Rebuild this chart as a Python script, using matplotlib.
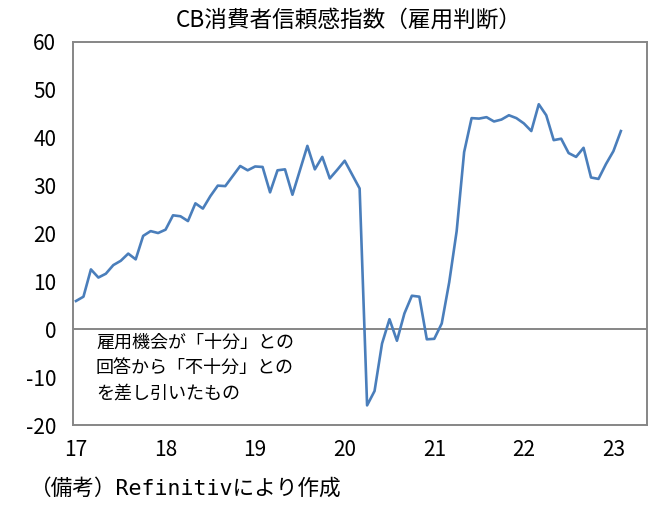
import matplotlib
matplotlib.use("Agg")
import matplotlib.pyplot as plt
import numpy as np

plt.rcParams['font.family'] = ['Noto Sans CJK JP', 'DejaVu Sans']

title = "CB消費者信頼感指数（雇用判断）"
note = "雇用機会が「十分」との\n回答から「不十分」との\nを差し引いたもの"
source = "（備考）Refinitivにより作成"

year_labels = ["17", "18", "19", "20", "21", "22", "23"]
y_ticks = [-20, -10, 0, 10, 20, 30, 40, 50, 60]

# Monthly values, Jan 2017 - Feb 2023
values = [
    5.9, 6.8, 12.5, 10.8, 11.6, 13.4, 14.3, 15.8, 14.6, 19.5, 20.5, 20.1,
    20.8, 23.8, 23.6, 22.6, 26.3, 25.2, 27.8, 30.0, 29.9, 32.0, 34.1, 33.2,
    34.0, 33.9, 28.6, 33.2, 33.4, 28.1, 33.2, 38.3, 33.4, 36.0, 31.5, 33.3,
    35.2, 32.3, 29.4, -15.9, -12.9, -3.0, 2.1, -2.4, 3.3, 7.0, 6.8, -2.1,
    -2.0, 1.2, 9.8, 20.5, 37.0, 44.1, 44.0, 44.3, 43.4, 43.8, 44.7, 44.1,
    43.0, 41.4, 47.0, 44.7, 39.5, 39.8, 36.8, 36.0, 37.9, 31.7, 31.4, 34.5,
    37.2, 41.4,
]

months = np.arange(len(values))

fig = plt.figure(figsize=(6.69, 5.14), dpi=100)
ax = fig.add_axes([73/669, 1-425/514, (647-73)/669, (425-42)/514])

grey = "#868686"
ax.axhline(0, color=grey, lw=1.4, zorder=1)
ax.plot(months, values, color="#4a7ebb", lw=1.9, zorder=3, solid_joinstyle='round')

ax.set_xlim(-0.4, 76.5)
ax.set_ylim(-20, 60)
ax.set_xticks(np.arange(len(year_labels)) * 12)
ax.set_xticklabels(year_labels)
ax.set_yticks(y_ticks)
ax.set_yticklabels([str(v) for v in y_ticks])
ax.tick_params(axis='both', length=0, labelsize=15, colors='black')
ax.tick_params(axis='y', pad=12)
ax.tick_params(axis='x', pad=10)
for s in ax.spines.values():
    s.set_color(grey)
    s.set_linewidth(1.4)

fig.text(349/669, 1-20/514, title, ha='center', va='center', fontsize=16.3)
fig.text(96/669, 1-334/514, note, ha='left', va='top', fontsize=13, linespacing=1.52)
fig.text(30/669, 1-488/514, source, ha='left', va='center', fontsize=15.6,
         family=['DejaVu Sans Mono', 'Noto Sans CJK JP'])

fig.savefig("out.png", dpi=100)
